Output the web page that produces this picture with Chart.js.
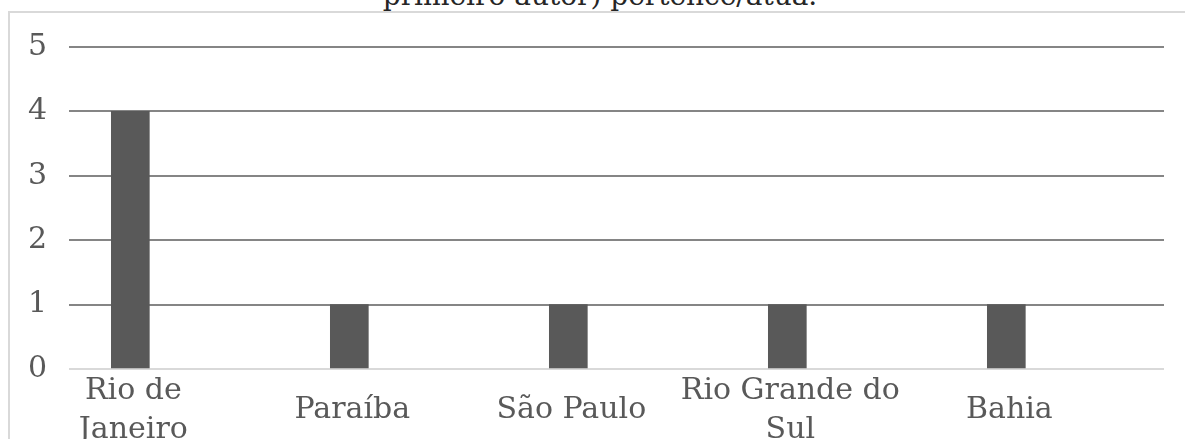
<!DOCTYPE html>
<html>
<head>
<meta charset="utf-8">
<script src="https://cdn.jsdelivr.net/npm/chart.js@4.4.1/dist/chart.umd.min.js"></script>
<style>
  html, body { margin: 0; padding: 0; background: #fff; overflow: hidden; }
  #wrap { position: relative; width: 1185px; height: 439px; overflow: hidden; }
  #frame { position: absolute; left: 8px; top: 11px; width: 1200px; height: 460px;
           border-left: 2px solid #d9d9d9; border-top: 2px solid #d9d9d9; box-sizing: border-box; }
  #title { position: absolute; left: 0; width: 1200px; top: -19px; text-align: center;
           font-family: "DejaVu Serif", serif; font-size: 28px; line-height: 30px; color: #262626; }
  canvas { position: absolute; left: 0; top: 0; }
</style>
</head>
<body>
<div id="wrap">
  <div id="frame"></div>
  <div id="title">primeiro autor) pertence/atua.</div>
  <canvas id="c" width="1185" height="439"></canvas>
</div>
<script>
const categories = [["Rio de", "Janeiro"], "Paraíba", "São Paulo", ["Rio Grande do", "Sul"], "Bahia"];
const values = [4, 1, 1, 1, 1];
const yTicks = [0, 1, 2, 3, 4, 5];

const font = { family: '"DejaVu Serif", serif', size: 30, lineHeight: 1.3 };

new Chart(document.getElementById('c'), {
  type: 'bar',
  data: {
    datasets: [{
      data: values.map((v, i) => ({ x: i, y: v })),
      backgroundColor: '#595959',
      barThickness: 38
    }]
  },
  options: {
    responsive: false,
    devicePixelRatio: 1,
    animation: false,
    plugins: { legend: { display: false }, tooltip: { enabled: false } },
    layout: { padding: { left: 10, right: 21, top: 47, bottom: 0 } },
    scales: {
      x: {
        type: 'linear',
        offset: false,
        bounds: 'ticks',
        min: -0.28,
        max: 4.72,
        grid: { display: false, offset: false },
        border: { display: false },
        afterBuildTicks: (s) => { s.ticks = categories.map((_, i) => ({ value: i })); },
        afterFit: (s) => { s.height = 70; },
        ticks: {
          autoSkip: false,
          maxRotation: 0,
          minRotation: 0,
          crossAlign: 'center',
          padding: 14,
          labelOffset: 3,
          color: '#595959',
          font: font,
          callback: (v) => categories[v]
        }
      },
      y: {
        min: 0,
        max: 5,
        afterBuildTicks: (s) => { s.ticks = yTicks.map(v => ({ value: v })); },
        afterFit: (s) => { s.width = 59; },
        border: { display: false },
        grid: {
          drawTicks: false,
          lineWidth: 2,
          color: (ctx) => ctx.tick && ctx.tick.value === 0 ? '#d9d9d9' : '#858585'
        },
        ticks: {
          padding: 22,
          color: '#595959',
          font: font
        }
      }
    }
  }
});
</script>
</body>
</html>
